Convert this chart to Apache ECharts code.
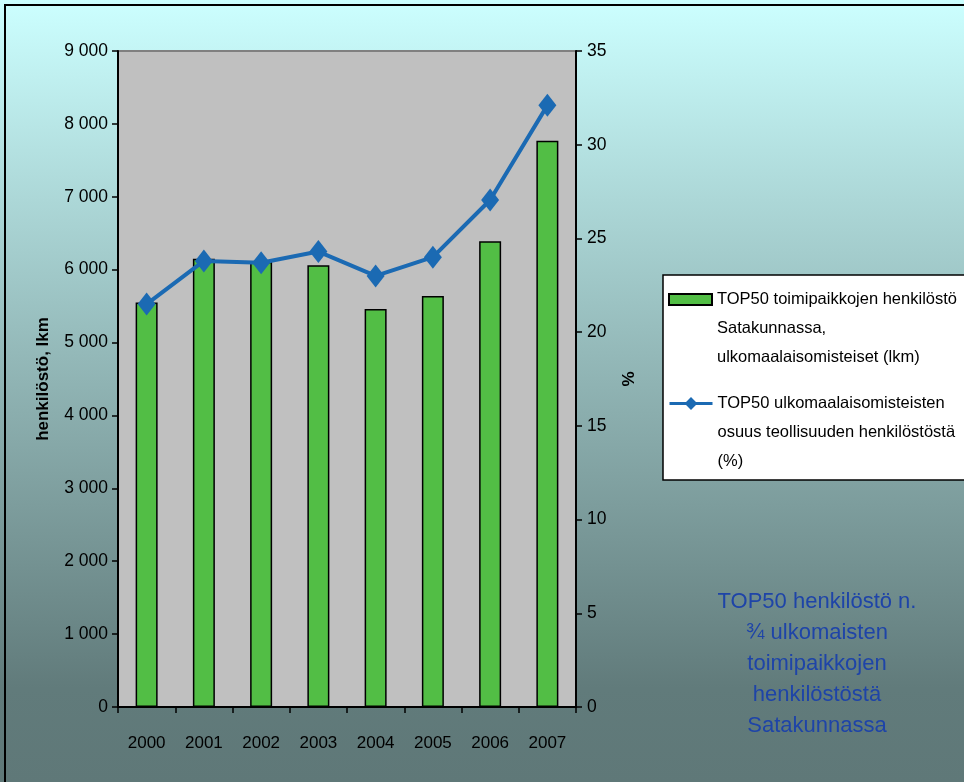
<!DOCTYPE html>
<html>
<head>
<meta charset="utf-8">
<script src="https://cdn.jsdelivr.net/npm/echarts@6/dist/echarts.min.js"></script>
<style>
  html, body { margin: 0; padding: 0; }
  body {
    width: 964px; height: 782px; overflow: hidden;
    background: linear-gradient(to bottom, #CCFFFF 0%, #94B9B9 45%, #617B7B 88%, #5F7878 100%);
    position: relative;
  }
  .frame {
    position: absolute; left: 4px; top: 4px; width: 1000px; height: 820px;
    border: 2px solid #000;
  }
  #chart { position: absolute; left: 0; top: 0; width: 964px; height: 782px; }
</style>
</head>
<body>
<div class="frame"></div>
<div id="chart"></div>
<script>
// vuodet, henkilöstö (lkm) ja osuus (%)
const years = ['2000', '2001', '2002', '2003', '2004', '2005', '2006', '2007']
const staff = [5550, 6150, 6110, 6060, 5460, 5640, 6390, 7770]
const share = [21.5, 23.8, 23.7, 24.3, 23.0, 24.0, 27.05, 32.1]

const barName = 'TOP50 toimipaikkojen henkilöstö\nSatakunnassa,\nulkomaalaisomisteiset (lkm)'
const lineName = 'TOP50 ulkomaalaisomisteisten\nosuus teollisuuden henkilöstöstä\n(%)'
const noteLines = ['TOP50 henkilöstö n.', '¾ ulkomaisten', 'toimipaikkojen', 'henkilöstöstä', 'Satakunnassa']

const font = '"Liberation Sans", Arial, sans-serif'
const fmtThousands = v => String(v).replace(/\B(?=(\d{3})+(?!\d))/g, ' ')

var myChart = echarts.init(document.getElementById('chart'), null, { renderer: 'canvas' })

// legend text is centred on the icon, so two empty lines in front put the first line next to it
const legendText = {
  color: '#000',
  fontFamily: font,
  fontSize: 16.5,
  lineHeight: 29
}
const legendFormatter = name => '\n\n' + name

const option = {
  animation: false,
  backgroundColor: 'transparent',
  textStyle: { fontFamily: font },
  grid: {
    left: 118,
    right: 388,
    top: 51,
    bottom: 75,
    show: true,
    backgroundColor: '#C0C0C0',
    borderColor: '#808080',
    borderWidth: 2
  },
  legend: [
    {
      data: [{ name: barName, icon: 'rect' }],
      left: 668,
      top: 227,
      padding: 0,
      itemWidth: 43,
      itemHeight: 11,
      formatter: legendFormatter,
      textStyle: legendText
    },
    {
      data: [lineName],
      left: 668,
      top: 331,
      padding: 0,
      itemWidth: 43,
      itemHeight: 16,
      lineStyle: { width: 3 },
      formatter: legendFormatter,
      textStyle: legendText
    }
  ],
  xAxis: {
    type: 'category',
    data: years,
    boundaryGap: true,
    axisLine: { lineStyle: { color: '#000', width: 2 } },
    axisTick: { show: true, length: 6, lineStyle: { color: '#000', width: 1.5 } },
    axisLabel: { color: '#000', fontSize: 17, margin: 28 }
  },
  yAxis: [
    {
      type: 'value',
      min: 0,
      max: 9000,
      interval: 1000,
      name: 'henkilöstö, lkm',
      nameLocation: 'middle',
      nameGap: 66,
      nameRotate: 90,
      nameTextStyle: { color: '#000', fontSize: 17, fontWeight: 'bold' },
      axisLine: { show: true, lineStyle: { color: '#000', width: 2 } },
      axisTick: { show: true, length: 6, lineStyle: { color: '#000', width: 1.5 } },
      axisLabel: { color: '#000', fontSize: 17.5, margin: 10, formatter: fmtThousands },
      splitLine: { show: false }
    },
    {
      type: 'value',
      position: 'right',
      min: 0,
      max: 35,
      interval: 5,
      name: '%',
      nameLocation: 'middle',
      nameGap: 45,
      nameRotate: 90,
      nameTextStyle: { color: '#000', fontSize: 17, fontWeight: 'bold' },
      axisLine: { show: true, lineStyle: { color: '#000', width: 2 } },
      axisTick: { show: true, length: 6, lineStyle: { color: '#000', width: 1.5 } },
      axisLabel: { color: '#000', fontSize: 17.5, margin: 11 },
      splitLine: { show: false }
    }
  ],
  series: [
    {
      name: barName,
      type: 'bar',
      yAxisIndex: 0,
      barWidth: 22,
      itemStyle: { color: '#52BE45', borderColor: '#000', borderWidth: 1.5 },
      data: staff
    },
    {
      name: lineName,
      type: 'line',
      yAxisIndex: 1,
      symbol: 'diamond',
      symbolSize: [18, 23],
      lineStyle: { color: '#1B6AB3', width: 4 },
      itemStyle: { color: '#1B6AB3' },
      z: 5,
      data: share
    }
  ],
  graphic: [
    {
      type: 'rect',
      z: -1,
      shape: { x: 663, y: 275, width: 320, height: 205 },
      style: { fill: '#fff', stroke: '#000', lineWidth: 1.5 }
    },
    {
      type: 'text',
      x: 817,
      y: 586,
      style: {
        text: noteLines.join('\n'),
        align: 'center',
        verticalAlign: 'top',
        fill: '#1E44A8',
        fontFamily: font,
        fontSize: 22,
        lineHeight: 31
      }
    }
  ]
}

myChart.setOption(option)
</script>
</body>
</html>
